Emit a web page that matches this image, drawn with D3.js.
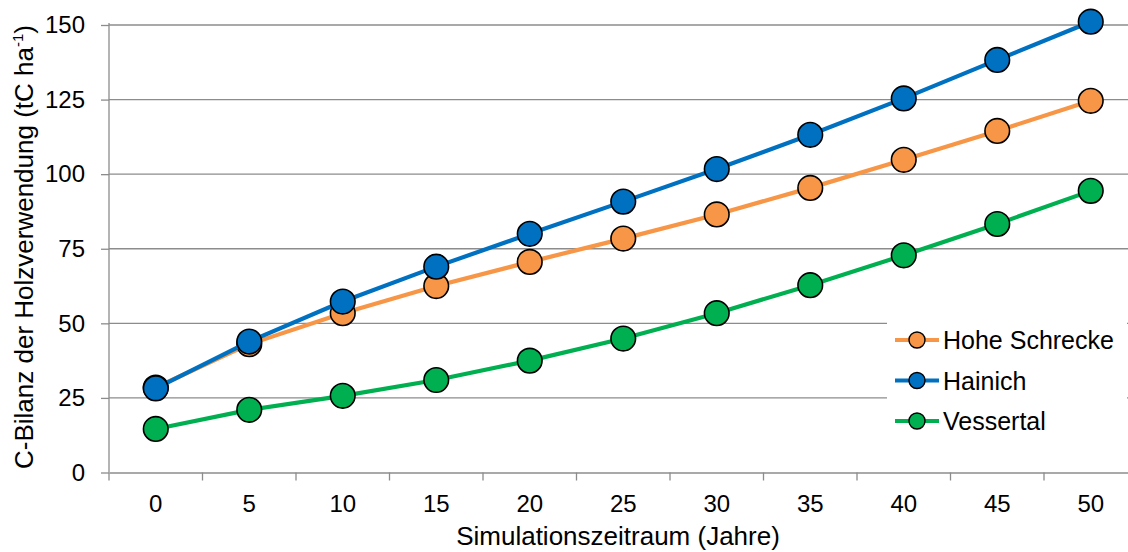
<!DOCTYPE html>
<html><head><meta charset="utf-8">
<script src="https://cdn.jsdelivr.net/npm/d3@7"></script>
<style>body{margin:0;background:#fff}svg{display:block;font-family:"Liberation Sans",Arial,sans-serif}</style>
</head><body>
<svg id="c" width="1128" height="552"></svg>
<script>
const categories = [0,5,10,15,20,25,30,35,40,45,50];
const hoheSchrecke = [28.5,43.0,53.4,62.5,70.6,78.4,86.5,95.4,104.8,114.5,124.6];
const hainich = [28.2,43.9,57.3,69.0,80.0,90.8,101.7,113.2,125.4,138.3,151.1];
const vessertal = [14.6,21.0,25.7,31.0,37.5,44.9,53.4,62.8,72.8,83.3,94.4];
const yTicks = [0,25,50,75,100,125,150];
const seriesNames = ["Hohe Schrecke","Hainich","Vessertal"];
const seriesColors = ["#F79646","#0070C0","#00B050"];
const seriesData = [hoheSchrecke, hainich, vessertal];

(function(){
const FS = 24;
const svg = d3.select("#c");
const mLeft = 109, mTop = 25, mBottom = 472.5;
const x = d3.scaleBand().domain(categories).range([mLeft, mLeft + 11*93.5]).paddingInner(0).paddingOuter(0);
const y = d3.scaleLinear().domain([0,150]).range([mBottom, mTop]);
const gridColor = "#8c8c8c";

// gridlines
svg.append("g").selectAll("line").data(yTicks.filter(d=>d>0)).join("line")
  .attr("x1", mLeft).attr("x2", 1128).attr("y1", d=>y(d)).attr("y2", d=>y(d))
  .attr("stroke", gridColor).attr("stroke-width", 1.3);

// y axis
const yAxis = svg.append("g").attr("transform",`translate(${mLeft},0)`)
  .call(d3.axisLeft(y).tickValues(yTicks).tickSize(8).tickPadding(16));
yAxis.select(".domain").attr("stroke", gridColor).attr("stroke-width",1.3).attr("d",`M0,${mTop-2}V${mBottom}`);
yAxis.selectAll(".tick line").attr("stroke", gridColor).attr("stroke-width",1.3);
yAxis.selectAll("text").attr("font-size",FS).attr("fill","#000").attr("font-family","Liberation Sans, Arial, sans-serif");

// x axis
const xAxis = svg.append("g").attr("transform",`translate(0,${mBottom})`)
  .call(d3.axisBottom(x).tickSize(0).tickPadding(22));
xAxis.select(".domain").attr("stroke", gridColor).attr("stroke-width",1.3);
xAxis.selectAll("text").attr("font-size",FS).attr("fill","#000").attr("font-family","Liberation Sans, Arial, sans-serif");
// tick marks between categories
svg.append("g").selectAll("line").data(categories).join("line")
  .attr("x1", d=>x(d)).attr("x2", d=>x(d)).attr("y1", mBottom).attr("y2", mBottom+8)
  .attr("stroke", gridColor).attr("stroke-width",1.3);

// series
const line = d3.line().x((d,i)=>x(categories[i])+x.bandwidth()/2).y(d=>y(d));
seriesData.forEach((data,si)=>{
  const g = svg.append("g");
  g.append("path").datum(data).attr("d", line).attr("fill","none")
    .attr("stroke", seriesColors[si]).attr("stroke-width",4.2).attr("stroke-linejoin","round");
  g.selectAll("circle").data(data).join("circle")
    .attr("cx",(d,i)=>x(categories[i])+x.bandwidth()/2).attr("cy", d=>y(d)).attr("r",12.3)
    .attr("fill", seriesColors[si]).attr("stroke","#000").attr("stroke-width",1.6);
});

// legend
const lg = svg.append("g");
lg.append("rect").attr("x",887).attr("y",310).attr("width",240).attr("height",132).attr("fill","#fff");
seriesNames.forEach((n,i)=>{
  const cy = 340 + i*40.5;
  lg.append("line").attr("x1",895).attr("x2",939).attr("y1",cy).attr("y2",cy)
    .attr("stroke",seriesColors[i]).attr("stroke-width",4.2);
  lg.append("circle").attr("cx",917).attr("cy",cy).attr("r",8).attr("fill",seriesColors[i])
    .attr("stroke","#000").attr("stroke-width",1.4);
  lg.append("text").attr("x",943).attr("y",cy).attr("dy","0.36em").attr("font-size",25).text(n);
});

// axis titles
svg.append("text").attr("x",618).attr("y",545).attr("text-anchor","middle").attr("font-size",26)
  .text("Simulationszeitraum (Jahre)");
const yt = svg.append("text").attr("transform","translate(33,247) rotate(-90)").attr("text-anchor","middle").attr("font-size",26);
yt.append("tspan").text("C-Bilanz der Holzverwendung (tC ha");
yt.append("tspan").attr("font-size",15).attr("dy",-10).text("-1");
yt.append("tspan").attr("dy",10).text(")");
})();
</script>
</body></html>
